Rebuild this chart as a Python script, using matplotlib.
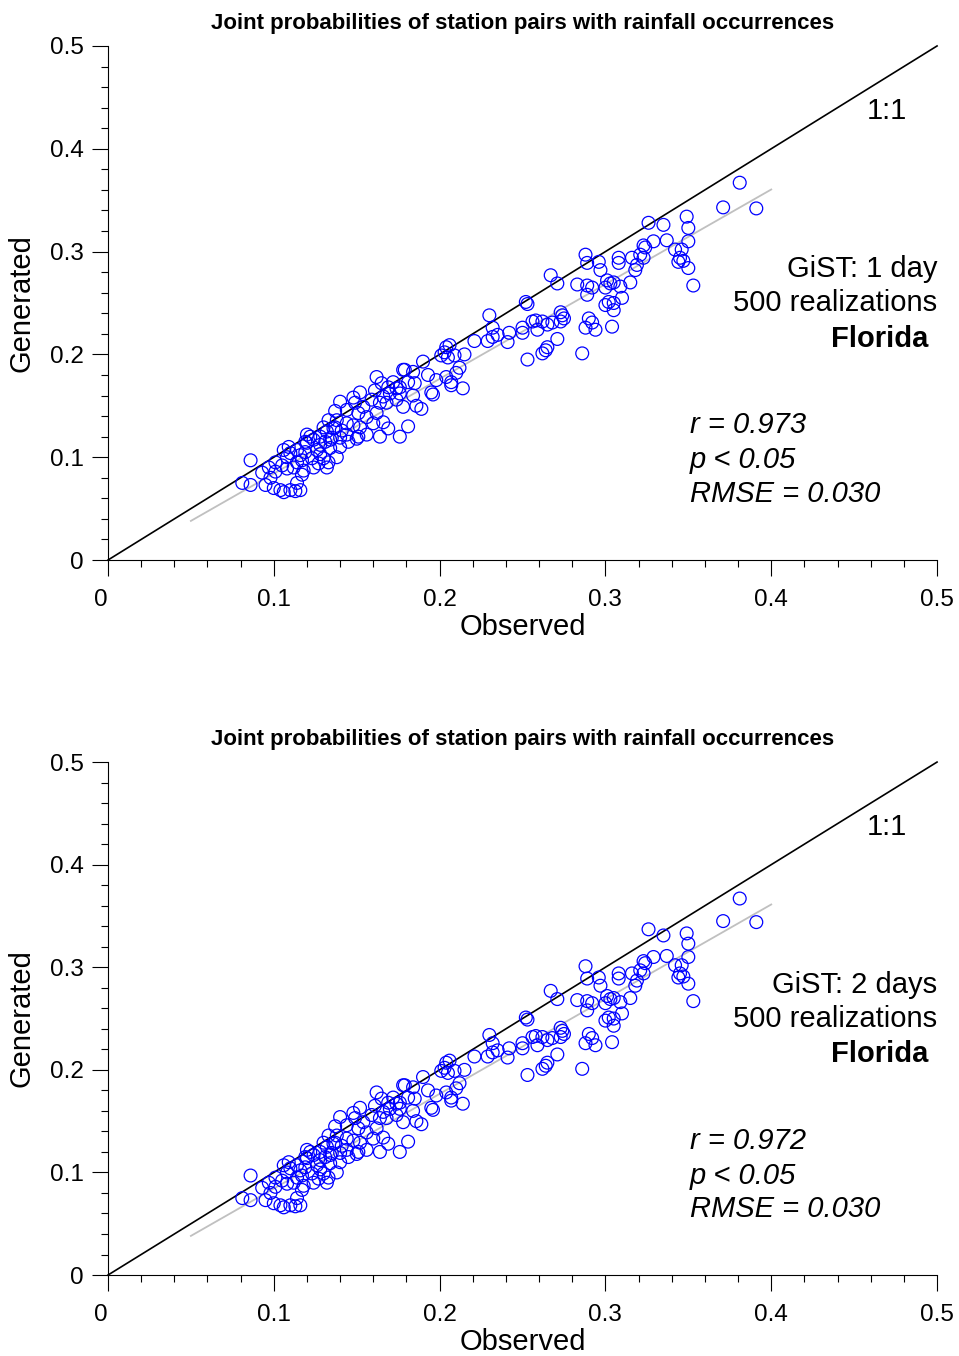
import numpy as np
import matplotlib
matplotlib.use("Agg")
import matplotlib.pyplot as plt
from matplotlib.ticker import MultipleLocator

plt.rcParams["font.family"] = ["Liberation Sans", "DejaVu Sans"]

# observed joint probabilities (same station pairs in both panels)
observed = [
    0.086, 0.081, 0.086, 0.093, 0.095, 0.098, 0.100, 0.104, 0.106, 0.110,
    0.113, 0.116, 0.117, 0.114, 0.101, 0.101, 0.106, 0.109, 0.110, 0.114,
    0.108, 0.112, 0.114, 0.117, 0.119, 0.120, 0.120, 0.124, 0.126, 0.123,
    0.127, 0.130, 0.132, 0.134, 0.135, 0.132, 0.137, 0.138, 0.105, 0.124,
    0.178, 0.162, 0.165, 0.169, 0.174, 0.170, 0.166, 0.161, 0.159, 0.164,
    0.168, 0.174, 0.178, 0.176, 0.140, 0.149, 0.154, 0.144, 0.151, 0.156,
    0.162, 0.160, 0.166, 0.169, 0.164, 0.176, 0.152, 0.148, 0.144, 0.138,
    0.133, 0.130, 0.136, 0.141, 0.144, 0.140, 0.134, 0.128, 0.131, 0.151,
    0.156, 0.122, 0.119, 0.206, 0.203, 0.205, 0.209, 0.201, 0.190, 0.179,
    0.184, 0.185, 0.193, 0.204, 0.207, 0.210, 0.214, 0.207, 0.195, 0.196,
    0.181, 0.176, 0.172, 0.267, 0.271, 0.252, 0.253, 0.230, 0.232, 0.232,
    0.235, 0.221, 0.229, 0.242, 0.241, 0.250, 0.250, 0.256, 0.258, 0.262,
    0.259, 0.265, 0.268, 0.273, 0.274, 0.271, 0.265, 0.264, 0.262, 0.253,
    0.204, 0.215, 0.212, 0.288, 0.289, 0.296, 0.297, 0.308, 0.308, 0.316,
    0.319, 0.318, 0.323, 0.321, 0.315, 0.301, 0.303, 0.305, 0.300, 0.309,
    0.283, 0.289, 0.292, 0.289, 0.302, 0.305, 0.305, 0.300, 0.273, 0.275,
    0.290, 0.292, 0.288, 0.294, 0.304, 0.286, 0.381, 0.371, 0.391, 0.349,
    0.350, 0.350, 0.335, 0.326, 0.337, 0.329, 0.324, 0.342, 0.346, 0.345,
    0.344, 0.347, 0.350, 0.353, 0.323, 0.310, 0.148, 0.152, 0.137, 0.181,
    0.186, 0.184, 0.189, 0.198, 0.097, 0.108, 0.118, 0.128, 0.133, 0.140,
    0.145, 0.150, 0.128, 0.116,
]

# generated, GiST 1 day
gen_1day = [
    0.097, 0.075, 0.073, 0.085, 0.073, 0.080, 0.070, 0.068, 0.066, 0.068,
    0.067, 0.068, 0.083, 0.075, 0.086, 0.095, 0.107, 0.110, 0.104, 0.107,
    0.089, 0.090, 0.095, 0.097, 0.105, 0.114, 0.122, 0.117, 0.107, 0.099,
    0.094, 0.099, 0.090, 0.109, 0.119, 0.125, 0.129, 0.100, 0.092, 0.090,
    0.185, 0.178, 0.172, 0.168, 0.167, 0.162, 0.159, 0.165, 0.156, 0.153,
    0.153, 0.156, 0.149, 0.162, 0.154, 0.153, 0.149, 0.146, 0.143, 0.139,
    0.143, 0.133, 0.134, 0.128, 0.120, 0.120, 0.129, 0.131, 0.133, 0.136,
    0.136, 0.129, 0.128, 0.126, 0.122, 0.119, 0.117, 0.120, 0.115, 0.120,
    0.122, 0.120, 0.115, 0.209, 0.202, 0.197, 0.199, 0.199, 0.193, 0.185,
    0.183, 0.172, 0.180, 0.178, 0.173, 0.182, 0.167, 0.170, 0.163, 0.161,
    0.173, 0.168, 0.173, 0.277, 0.269, 0.251, 0.249, 0.238, 0.226, 0.217,
    0.219, 0.213, 0.213, 0.221, 0.212, 0.226, 0.221, 0.232, 0.233, 0.232,
    0.224, 0.229, 0.231, 0.232, 0.238, 0.215, 0.207, 0.204, 0.201, 0.195,
    0.207, 0.200, 0.187, 0.297, 0.289, 0.290, 0.282, 0.294, 0.289, 0.294,
    0.287, 0.282, 0.306, 0.297, 0.270, 0.272, 0.269, 0.270, 0.265, 0.266,
    0.268, 0.267, 0.265, 0.258, 0.251, 0.250, 0.243, 0.248, 0.241, 0.235,
    0.235, 0.231, 0.226, 0.224, 0.227, 0.201, 0.367, 0.343, 0.342, 0.334,
    0.323, 0.310, 0.326, 0.328, 0.311, 0.310, 0.304, 0.302, 0.302, 0.294,
    0.290, 0.291, 0.284, 0.267, 0.294, 0.255, 0.158, 0.163, 0.145, 0.130,
    0.150, 0.160, 0.147, 0.175, 0.090, 0.100, 0.087, 0.103, 0.095, 0.110,
    0.115, 0.118, 0.112, 0.102,
]

# generated, GiST 2 days
gen_2day = [
    0.097, 0.075, 0.073, 0.085, 0.073, 0.080, 0.070, 0.068, 0.066, 0.068,
    0.067, 0.068, 0.083, 0.075, 0.086, 0.095, 0.107, 0.110, 0.104, 0.107,
    0.089, 0.090, 0.095, 0.097, 0.105, 0.114, 0.122, 0.117, 0.107, 0.099,
    0.094, 0.099, 0.090, 0.109, 0.119, 0.125, 0.129, 0.100, 0.092, 0.090,
    0.185, 0.178, 0.172, 0.168, 0.167, 0.162, 0.159, 0.165, 0.156, 0.153,
    0.153, 0.156, 0.149, 0.162, 0.154, 0.153, 0.149, 0.146, 0.143, 0.139,
    0.143, 0.133, 0.134, 0.128, 0.120, 0.120, 0.129, 0.131, 0.133, 0.136,
    0.136, 0.129, 0.128, 0.126, 0.122, 0.119, 0.117, 0.120, 0.115, 0.120,
    0.122, 0.120, 0.115, 0.209, 0.202, 0.197, 0.199, 0.199, 0.193, 0.185,
    0.183, 0.172, 0.180, 0.178, 0.173, 0.182, 0.167, 0.170, 0.163, 0.161,
    0.173, 0.168, 0.173, 0.277, 0.269, 0.251, 0.249, 0.234, 0.226, 0.217,
    0.219, 0.213, 0.213, 0.221, 0.212, 0.226, 0.221, 0.232, 0.233, 0.232,
    0.224, 0.229, 0.231, 0.232, 0.238, 0.215, 0.207, 0.204, 0.201, 0.195,
    0.207, 0.200, 0.187, 0.301, 0.289, 0.290, 0.282, 0.294, 0.289, 0.294,
    0.287, 0.282, 0.306, 0.297, 0.270, 0.272, 0.269, 0.270, 0.265, 0.266,
    0.268, 0.267, 0.265, 0.258, 0.251, 0.250, 0.243, 0.248, 0.241, 0.235,
    0.235, 0.231, 0.226, 0.224, 0.227, 0.201, 0.367, 0.345, 0.344, 0.333,
    0.323, 0.310, 0.331, 0.337, 0.311, 0.310, 0.304, 0.302, 0.302, 0.294,
    0.290, 0.291, 0.284, 0.267, 0.294, 0.255, 0.158, 0.163, 0.145, 0.130,
    0.150, 0.160, 0.147, 0.175, 0.090, 0.100, 0.087, 0.103, 0.095, 0.110,
    0.115, 0.118, 0.112, 0.102,
]

# regression line (slope, intercept) and its observed range
fit_1day = (0.921, -0.008)
fit_2day = (0.923, -0.008)
fit_range = (0.05, 0.40)

tick_values = [0, 0.1, 0.2, 0.3, 0.4, 0.5]
tick_labels = ["0", "0.1", "0.2", "0.3", "0.4", "0.5"]

panels = [
    (gen_1day, fit_1day, "GiST: 1 day", "r = 0.973", [0.1126, 0.587, 0.8645, 0.3791]),
    (gen_2day, fit_2day, "GiST: 2 days", "r = 0.972", [0.1126, 0.0597, 0.8645, 0.3783]),
]

fig = plt.figure(figsize=(9.59, 13.56), dpi=100)

for gen, fit, label, rtxt, rect in panels:
    ax = fig.add_axes(rect)
    ax.spines["top"].set_visible(False)
    ax.spines["right"].set_visible(False)
    for s in ("left", "bottom"):
        ax.spines[s].set_linewidth(0.8)

    ax.set_xticks(tick_values)
    ax.set_xticklabels(tick_labels)
    ax.set_yticks(tick_values)
    ax.set_yticklabels(tick_labels)
    ax.xaxis.set_minor_locator(MultipleLocator(0.02))
    ax.yaxis.set_minor_locator(MultipleLocator(0.02))
    ax.set_xlim(0, 0.5)
    ax.set_ylim(0, 0.5)
    ax.tick_params(which="major", direction="out", length=11.5, width=0.8,
                   labelsize=17.5, pad=6)
    ax.tick_params(which="minor", direction="out", length=5, width=0.8)
    ax.tick_params(axis="x", which="major", pad=9)
    ax.get_xticklabels()[0].set_horizontalalignment("right")

    ax.plot([0, 0.5], [0, 0.5], color="black", lw=1.2, clip_on=False)
    xs = np.array(fit_range)
    ax.plot(xs, fit[0] * xs + fit[1], color="#c0c0c0", lw=1.3)
    ax.scatter(observed, gen, s=85, facecolors="none", edgecolors="blue",
               linewidths=0.9, zorder=3)

    ax.set_xlabel("Observed", fontsize=21, labelpad=2)
    ax.set_ylabel("Generated", fontsize=21, labelpad=10)
    ax.set_title("Joint probabilities of station pairs with rainfall occurrences",
                 fontsize=16, fontweight="bold", pad=12)

    ax.text(0.47, 0.437, "1:1", fontsize=21, ha="center", va="center")
    ax.text(0.5, 0.283, label, fontsize=21, ha="right", va="center")
    ax.text(0.5, 0.250, "500 realizations", fontsize=21, ha="right", va="center")
    ax.text(0.495, 0.215, "Florida", fontsize=21, fontweight="bold",
            ha="right", va="center")
    ax.text(0.351, 0.131, rtxt, fontsize=21, style="italic", va="center")
    ax.text(0.351, 0.097, "p < 0.05", fontsize=21, style="italic", va="center")
    ax.text(0.351, 0.064, "RMSE = 0.030", fontsize=21, style="italic", va="center")

fig.savefig("out.png", dpi=100)
